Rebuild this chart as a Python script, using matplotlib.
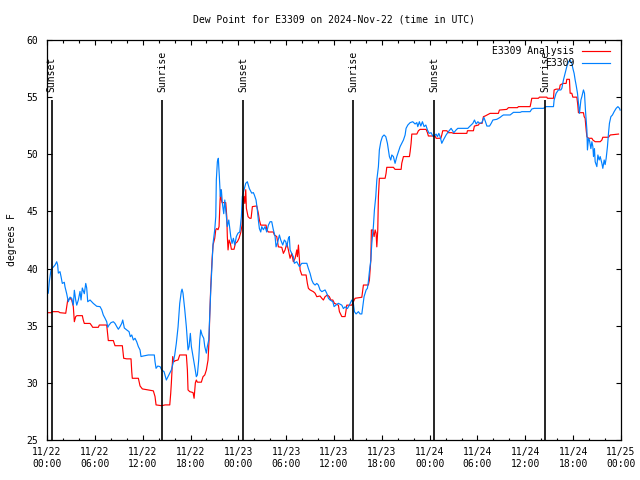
import numpy as np
import matplotlib
matplotlib.use('Agg')
from matplotlib import pyplot as plt

#Dew point data, hours since 2024-11-22 00:00 UTC
obs_hours = [
    0.00, 0.16, 0.29, 0.50, 0.66, 1.00, 1.22, 1.34, 1.42, 1.63,
    1.76, 1.92, 2.17, 2.26, 2.47, 2.67, 2.89, 3.10, 3.30, 3.43,
    3.60, 3.73, 3.93, 4.14, 4.27, 4.43, 4.68, 4.86, 4.98, 5.11,
    5.40, 5.81, 6.24, 6.65, 6.86, 7.06, 7.28, 7.49, 7.62, 7.78,
    8.03, 8.32, 8.53, 8.75, 8.95, 9.16, 9.37, 9.50, 9.70, 10.00,
    10.29, 10.45, 10.63, 10.83, 11.04, 11.25, 11.46, 11.67, 11.79, 12.08,
    12.71, 13.46, 13.55, 13.68, 13.89, 14.18, 14.39, 14.68, 14.97, 15.18,
    15.40, 15.60, 15.81, 16.02, 16.22, 16.44, 16.65, 16.85, 16.94, 17.06,
    17.28, 17.48, 17.69, 17.82, 17.98, 18.11, 18.32, 18.53, 18.73, 18.86,
    19.03, 19.16, 19.28, 19.45, 19.66, 19.79, 19.99, 20.11, 20.29, 20.41,
    20.54, 20.70, 20.83, 21.04, 21.17, 21.24, 21.37, 21.49, 21.62, 21.74,
    21.87, 22.00, 22.17, 22.30, 22.50, 22.62, 22.80, 23.05, 23.21, 23.38,
    23.55, 23.75, 23.96, 24.18, 24.38, 24.50, 24.72, 24.93, 25.13, 25.38,
    25.68, 25.88, 26.01, 26.22, 26.39, 26.51, 26.64, 26.81, 26.94, 27.14,
    27.35, 27.56, 27.77, 27.98, 28.19, 28.39, 28.61, 28.73, 28.95, 29.15,
    29.32, 29.57, 29.77, 29.95, 30.08, 30.28, 30.40, 30.49, 30.70, 30.90,
    31.03, 31.33, 31.66, 31.96, 32.59, 32.79, 33.00, 33.21, 33.41, 33.63,
    33.84, 34.04, 34.25, 34.47, 34.88, 35.09, 35.30, 35.51, 35.85, 36.01,
    36.23, 36.55, 36.98, 37.18, 37.39, 37.68, 37.93, 38.23, 38.43, 38.56,
    38.77, 39.06, 39.27, 39.49, 39.61, 39.77, 40.03, 40.19, 40.31, 40.44,
    40.62, 40.74, 40.94, 41.07, 41.24, 41.37, 41.57, 41.69, 41.87, 42.07,
    42.28, 42.50, 42.70, 42.82, 42.95, 43.12, 43.25, 43.45, 43.66, 43.88,
    44.08, 44.29, 44.50, 44.71, 44.92, 45.04, 45.26, 45.55, 45.88, 46.17,
    46.39, 46.51, 46.71, 46.89, 47.09, 47.30, 47.52, 47.72, 47.93, 48.18,
    48.39, 48.59, 48.81, 48.97, 49.15, 49.31, 49.52, 49.72, 50.06, 50.35,
    50.69, 51.03, 51.32, 51.53, 52.79, 52.99, 53.42, 53.62, 53.83, 54.05,
    54.25, 54.55, 54.80, 55.00, 55.18, 55.51, 55.72, 55.93, 56.42, 56.84,
    57.05, 57.25, 58.09, 58.51, 59.35, 59.56, 60.60, 60.81, 61.10, 62.27,
    62.61, 63.53, 63.61, 63.86, 64.15, 64.45, 64.58, 64.78, 64.99, 65.20,
    65.41, 65.62, 65.83, 65.96, 66.12, 66.25, 66.37, 66.54, 66.66, 66.79,
    66.97, 67.09, 67.29, 67.42, 67.54, 67.72, 67.79, 67.92, 68.04, 68.22,
    68.35, 68.47, 68.55, 68.67, 68.76, 68.97, 69.10, 69.26, 69.39, 69.60,
    69.72, 69.89, 70.01, 70.14, 70.30, 70.43, 70.55, 70.73, 70.93, 71.14,
    71.39, 71.61, 71.81, 71.89,
]
obs_dewpt = [
    37.84, 37.84, 38.86, 39.88, 40.03, 40.30, 40.60, 40.30, 39.60, 39.73,
    39.30, 38.70, 38.80, 38.40, 37.80, 37.10, 37.50, 37.40, 36.80, 38.10,
    37.25, 36.80, 37.25, 38.00, 37.25, 38.30, 37.80, 38.70, 38.30, 37.10,
    37.25, 36.95, 36.70, 36.67, 36.40, 35.94, 35.65, 35.35, 34.86, 35.06,
    35.27, 35.35, 35.20, 34.92, 34.69, 34.92, 35.20, 35.50, 34.80, 34.63,
    34.48, 34.04, 34.19, 33.75, 33.90, 33.60, 33.17, 32.88, 32.30, 32.35,
    32.44, 32.44, 31.85, 31.27, 31.47, 31.42, 31.13, 30.98, 30.25, 30.54,
    30.83, 31.13, 31.70, 32.44, 33.45, 34.90, 36.96, 38.00, 38.20, 37.85,
    36.40, 34.90, 32.88, 33.17, 34.33, 33.17, 32.30, 31.42, 30.54, 30.69,
    32.00, 33.75, 34.63, 34.19, 33.90, 33.17, 32.60, 33.17, 33.75, 35.80,
    38.10, 40.46, 42.20, 43.40, 44.54, 47.75, 49.35, 49.65, 48.04, 46.30,
    46.90, 45.70, 44.80, 46.00, 44.54, 43.67, 44.25, 42.80, 42.20, 42.65,
    42.06, 42.80, 43.10, 43.20, 44.54, 46.30, 46.90, 47.46, 47.60, 47.00,
    46.60, 46.65, 46.44, 46.00, 45.10, 44.25, 43.50, 43.20, 43.67, 43.40,
    43.67, 43.20, 43.80, 44.10, 44.10, 43.40, 42.80, 41.90, 42.35, 42.94,
    42.50, 42.06, 42.50, 42.35, 41.90, 42.65, 42.80, 41.63, 41.33, 41.04,
    40.46, 40.60, 40.17, 40.46, 40.46, 40.00, 39.58, 39.00, 38.70, 38.56,
    38.70, 38.56, 38.13, 37.98, 38.13, 37.84, 37.40, 37.25, 37.10, 36.67,
    36.80, 36.96, 36.80, 36.50, 36.65, 36.50, 36.80, 37.25, 36.96, 36.23,
    36.03, 36.23, 36.03, 36.03, 36.67, 37.54, 38.13, 38.27, 38.86, 39.73,
    40.75, 42.20, 43.67, 45.13, 46.30, 47.75, 48.92, 50.38, 51.10, 51.54,
    51.69, 51.54, 50.96, 50.38, 49.80, 49.50, 49.94, 49.80, 49.21, 49.80,
    50.23, 50.67, 50.96, 51.25, 51.69, 52.27, 52.56, 52.77, 52.85, 52.65,
    52.77, 52.42, 52.85, 52.47, 52.85, 52.42, 52.56, 52.13, 51.83, 51.89,
    51.60, 51.60, 51.77, 51.54, 51.83, 51.54, 50.96, 51.25, 51.69, 51.98,
    52.27, 51.89, 52.13, 52.27, 52.27, 52.42, 52.71, 53.00, 52.65, 52.85,
    52.71, 52.77, 53.23, 52.85, 52.47, 52.47, 52.71, 53.00, 53.06, 53.23,
    53.35, 53.44, 53.44, 53.67, 53.67, 53.73, 53.73, 53.96, 54.02, 54.02,
    54.17, 54.17, 54.75, 55.34, 55.63, 55.63, 55.77, 56.50, 57.08, 57.67,
    58.10, 58.25, 57.96, 57.52, 57.08, 56.50, 56.06, 55.34, 54.46, 53.58,
    54.75, 55.04, 55.63, 55.34, 53.87, 52.13, 50.38, 51.40, 51.25, 50.50,
    51.10, 50.67, 49.80, 50.50, 49.35, 48.92, 49.94, 49.50, 49.80, 49.21,
    48.77, 49.50, 49.10, 49.65, 50.67, 51.83, 52.71, 53.29, 53.44, 53.73,
    54.02, 54.17, 54.02, 53.87,
]

ana_hours = [
    0.00, 0.50, 0.66, 1.42, 1.63, 2.35, 2.60, 2.89, 3.10, 3.30,
    3.43, 3.60, 3.76, 4.43, 4.55, 4.68, 5.40, 5.61, 5.73, 6.44,
    6.56, 7.49, 7.62, 7.69, 8.32, 8.53, 9.45, 9.62, 10.00, 10.54,
    10.63, 10.70, 11.46, 11.67, 11.96, 12.71, 13.34, 13.55, 13.68, 14.39,
    14.81, 15.40, 15.52, 15.60, 15.68, 15.77, 15.93, 16.10, 16.44, 16.65,
    17.48, 17.61, 17.69, 17.91, 18.32, 18.45, 18.61, 18.73, 18.86, 19.36,
    19.57, 19.79, 19.99, 20.20, 20.33, 20.41, 20.54, 20.70, 20.83, 21.04,
    21.17, 21.29, 21.45, 21.58, 21.71, 21.79, 21.87, 21.96, 22.42, 22.55,
    22.62, 22.71, 22.84, 23.00, 23.13, 23.46, 23.63, 23.88, 24.09, 24.30,
    24.47, 24.60, 24.72, 24.81, 24.93, 25.01, 25.22, 25.43, 25.60, 25.76,
    26.31, 26.51, 26.64, 26.81, 27.48, 27.56, 27.77, 28.39, 28.52, 28.82,
    29.02, 29.45, 29.65, 29.86, 30.08, 30.28, 30.49, 30.70, 30.90, 31.12,
    31.33, 31.41, 31.54, 31.66, 31.75, 31.96, 32.50, 32.66, 32.79, 33.00,
    33.41, 33.63, 33.84, 34.25, 34.47, 34.67, 34.88, 35.17, 35.42, 35.60,
    35.85, 36.05, 36.55, 36.68, 36.98, 37.39, 37.52, 37.60, 38.23, 38.43,
    38.64, 39.49, 39.61, 39.69, 40.31, 40.44, 40.62, 40.69, 40.87, 41.03,
    41.16, 41.28, 41.37, 41.49, 41.57, 41.69, 42.41, 42.53, 42.62, 43.45,
    43.66, 44.42, 44.50, 44.71, 45.46, 45.55, 45.67, 45.76, 46.39, 46.59,
    46.80, 47.55, 47.72, 47.84, 48.68, 48.81, 49.40, 49.52, 49.64, 50.15,
    50.35, 50.78, 50.98, 52.66, 52.74, 53.49, 53.61, 54.12, 54.24, 54.58,
    54.74, 54.96, 55.58, 56.62, 56.75, 57.67, 57.88, 59.01, 59.13, 60.60,
    60.69, 60.81, 61.64, 61.77, 62.70, 62.77, 63.53, 63.61, 63.86, 64.28,
    64.37, 64.70, 65.12, 65.20, 65.53, 65.62, 65.83, 65.96, 66.46, 66.58,
    66.66, 67.29, 67.38, 67.50, 67.63, 67.72, 67.92, 68.35, 68.47, 68.76,
    69.39, 69.60, 69.72, 70.43, 70.65, 71.69,
]
ana_dewpt = [
    36.14, 36.14, 36.23, 36.23, 36.14, 36.09, 37.25, 37.40, 37.25, 36.67,
    35.35, 35.80, 35.88, 35.88, 35.50, 35.20, 35.20, 35.00, 34.86, 34.86,
    35.06, 35.06, 34.20, 33.70, 33.70, 33.25, 33.25, 32.15, 32.10, 32.10,
    30.98, 30.40, 30.40, 29.73, 29.47, 29.38, 29.30, 28.80, 28.07, 28.00,
    28.07, 28.07, 29.10, 30.00, 31.13, 32.30, 31.85, 31.94, 32.00, 32.44,
    32.44, 31.13, 29.38, 29.23, 29.15, 28.65, 30.00, 30.25, 30.06, 30.06,
    30.54, 30.69, 31.13, 32.00, 33.75, 35.80, 38.40, 40.75, 42.06, 42.65,
    43.40, 43.50, 43.40, 43.67, 46.00, 46.90, 46.00, 45.77, 45.77, 44.54,
    42.80, 41.63, 42.50, 42.20, 41.69, 41.69, 42.20, 42.35, 42.65, 43.15,
    43.80, 46.00, 46.30, 45.70, 46.90, 45.27, 44.54, 44.40, 44.40, 45.42,
    45.48, 44.84, 44.25, 43.80, 43.80, 43.40, 43.20, 43.20, 42.94, 42.80,
    41.90, 41.86, 41.33, 41.63, 42.20, 41.63, 40.90, 41.33, 40.60, 40.90,
    41.63, 41.04, 42.06, 40.75, 39.88, 39.44, 39.44, 38.70, 38.27, 38.13,
    37.98, 37.84, 37.54, 37.60, 37.40, 37.25, 37.54, 37.69, 37.54, 37.25,
    37.25, 36.96, 36.80, 36.23, 35.80, 35.80, 36.38, 36.80, 36.80, 37.10,
    37.40, 37.49, 38.13, 38.56, 38.56, 39.00, 40.75, 43.38, 43.38, 42.80,
    43.38, 43.10, 41.90, 43.38, 46.30, 47.90, 47.90, 48.33, 48.86, 48.86,
    48.68, 48.68, 49.21, 49.80, 49.80, 50.23, 50.96, 51.77, 51.77, 52.06,
    52.18, 52.18, 51.89, 51.60, 51.60, 51.40, 51.40, 51.69, 52.06, 52.06,
    51.89, 51.89, 51.83, 51.83, 52.06, 52.06, 52.47, 52.56, 52.71, 52.71,
    53.29, 53.35, 53.58, 53.58, 53.87, 53.93, 54.08, 54.08, 54.17, 54.17,
    54.46, 54.90, 54.90, 55.00, 55.00, 54.90, 54.90, 55.63, 55.70, 55.70,
    56.06, 56.20, 56.20, 56.56, 56.56, 55.34, 55.34, 55.00, 55.00, 54.31,
    53.64, 53.64, 53.29, 53.15, 52.13, 51.54, 51.40, 51.40, 51.25, 51.10,
    51.10, 51.25, 51.49, 51.49, 51.69, 51.77,
]

#Sunrise / sunset markers
sun_hours = [0.59, 14.47, 24.63, 38.43, 48.60, 62.52]
sun_names = ['Sunset', 'Sunrise', 'Sunset', 'Sunrise', 'Sunset', 'Sunrise']

tick_hours = list(range(0, 73, 6))
tick_labels = ['11/22\n00:00', '11/22\n06:00', '11/22\n12:00', '11/22\n18:00',
               '11/23\n00:00', '11/23\n06:00', '11/23\n12:00', '11/23\n18:00',
               '11/24\n00:00', '11/24\n06:00', '11/24\n12:00', '11/24\n18:00',
               '11/25\n00:00']

plt.rcParams['font.family'] = ['DejaVu Sans Mono']
plt.rcParams['font.size'] = 7

fig = plt.figure(figsize=(6.4, 4.8), dpi=100)
ax = fig.add_axes([47/640, 40/480, 574/640, 400/480])

ax.plot(ana_hours, ana_dewpt, color='#ff0000', lw=0.85, label='E3309 Analysis')
ax.plot(obs_hours, obs_dewpt, color='#0080ff', lw=0.85, label='E3309')

ax.vlines(sun_hours, 25, 54.75, colors='black', lw=1.2)
for h, name in zip(sun_hours, sun_names):
    ax.text(h, 55.45, name, rotation=90, ha='center', va='bottom', fontsize=7)

ax.set_xlim(0, 72)
ax.set_ylim(25, 60)
ax.set_xticks(tick_hours)
ax.set_xticklabels(tick_labels, linespacing=1.3)
ax.set_xticks(range(0, 73, 2), minor=True)
ax.set_yticks(range(25, 61, 5))
ax.tick_params(which='both', direction='in', top=True, right=True, width=0.8)
ax.tick_params(which='major', length=3.3)
ax.tick_params(which='minor', length=1.8)
ax.tick_params(axis='x', pad=5)
ax.tick_params(axis='y', pad=6.5)
for s in ax.spines.values():
    s.set_linewidth(0.9)

ax.set_ylabel('degrees F')
ax.yaxis.set_label_coords(-0.053, 0.5)

fig.text(334/640, 1 - 19/480, 'Dew Point for E3309 on 2024-Nov-22 (time in UTC)',
         ha='center', va='center', fontsize=7)

ax.legend(loc='upper right', bbox_to_anchor=(0.981, 0.985), frameon=False,
          markerfirst=False, handlelength=2.9, handletextpad=0.8,
          labelspacing=0.2, borderpad=0, borderaxespad=0, fontsize=7)

fig.savefig('out.png', dpi=100)
